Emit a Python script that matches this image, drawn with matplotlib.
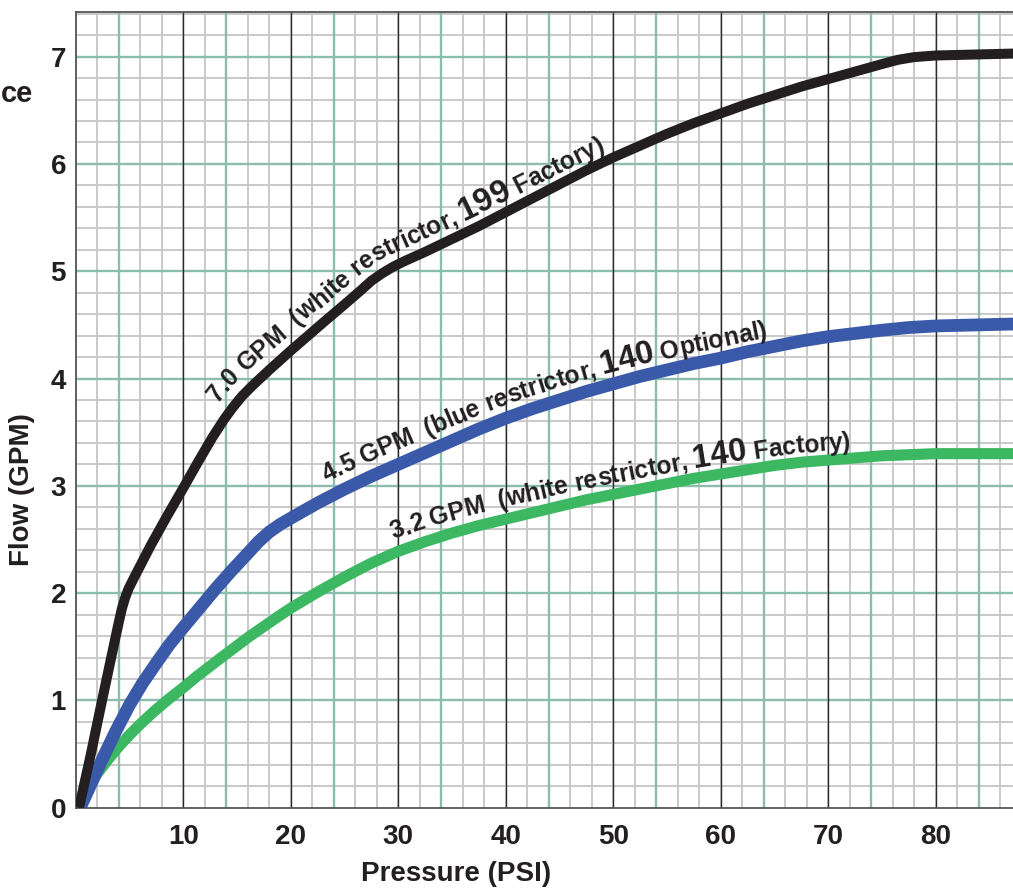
import numpy as np
import matplotlib
matplotlib.use("Agg")
import matplotlib.pyplot as plt
from matplotlib.font_manager import FontProperties
from matplotlib.transforms import IdentityTransform

# ---------------- data ----------------
pressure_black = [0.3, 1.4, 2.4, 3.4, 4.0, 4.3, 4.6, 4.9, 5.5, 7.0, 8.5, 10, 11.3, 12.7,
                  13.8, 14.6, 15.5, 16.5, 18, 20, 21.5, 23, 25, 26.5, 27.5, 28.5, 29.5,
                  30.5, 32.5, 35, 37.5, 40, 42.5, 45, 47.5, 50, 52.5, 55, 57.5, 60, 62.5,
                  65, 67.5, 70, 72.5, 75, 76.5, 78, 80, 84, 88]
flow_black = [0.0, 0.5, 0.98, 1.45, 1.73, 1.86, 1.96, 2.04, 2.16, 2.45, 2.72, 2.98, 3.21,
              3.45, 3.62, 3.73, 3.84, 3.94, 4.08, 4.26, 4.39, 4.52, 4.69, 4.82, 4.91,
              4.98, 5.04, 5.09, 5.18, 5.30, 5.42, 5.55, 5.68, 5.81, 5.94, 6.06, 6.17,
              6.28, 6.38, 6.47, 6.56, 6.64, 6.72, 6.79, 6.86, 6.93, 6.97, 6.995, 7.01,
              7.02, 7.03]

pressure_blue = [0.4, 1.5, 2.5, 3.7, 5.0, 6.2, 7.5, 8.7, 10, 11.5, 13, 14.5, 15.9, 17, 18,
                 19, 20.2, 22.5, 25, 27.5, 30, 32.5, 35, 37.5, 40, 42.5, 45, 47.5, 50,
                 52.5, 55, 57.5, 60, 62.5, 65, 67.5, 70, 72.5, 75, 77.5, 80, 84, 88]
flow_blue = [0.0, 0.24, 0.46, 0.71, 0.96, 1.16, 1.35, 1.52, 1.68, 1.86, 2.04, 2.21, 2.36,
             2.48, 2.57, 2.64, 2.71, 2.84, 2.97, 3.09, 3.20, 3.31, 3.42, 3.53, 3.63, 3.72,
             3.80, 3.88, 3.95, 4.02, 4.08, 4.14, 4.19, 4.25, 4.30, 4.35, 4.39, 4.42, 4.45,
             4.475, 4.49, 4.50, 4.51]

pressure_green = [0.2, 1, 2, 3, 3.9, 5, 6, 7.3, 8.6, 10, 11.2, 12.5, 13.8, 15, 16.2, 17.5,
                  18.8, 20, 22.5, 25, 27.5, 30, 32.5, 35, 37.5, 40, 42.5, 45, 47.5, 50,
                  52.5, 55, 57.5, 60, 62.5, 65, 67.5, 70, 72.5, 75, 77.5, 80, 84, 88]
flow_green = [0.02, 0.17, 0.32, 0.45, 0.56, 0.68, 0.78, 0.90, 1.01, 1.12, 1.22, 1.32, 1.42,
              1.51, 1.60, 1.69, 1.78, 1.86, 2.01, 2.15, 2.28, 2.39, 2.48, 2.56, 2.63, 2.69,
              2.75, 2.81, 2.87, 2.92, 2.97, 3.02, 3.07, 3.11, 3.15, 3.19, 3.22, 3.24, 3.26,
              3.28, 3.29, 3.30, 3.30, 3.30]

x_ticks = [10, 20, 30, 40, 50, 60, 70, 80]
y_ticks = [0, 1, 2, 3, 4, 5, 6, 7]

label_black = [("7.0 GPM  (white restrictor, ", "s"), ("199", "b"), (" Factory)", "s")]
label_blue = [("4.5 GPM  (blue restrictor, ", "s"), ("140", "b"), (" Optional)", "s")]
label_green = [("3.2 GPM  (white restrictor, ", "s"), ("140", "b"), (" Factory)", "s")]

# ---------------- figure ----------------
W, H = 1013, 890
FONT = "Liberation Sans"
fig = plt.figure(figsize=(W / 100, H / 100), dpi=100)
x0_px, y0_px, ytop_px = 75.8, 807.8, 11.5
ax = fig.add_axes([x0_px / W, (H - y0_px) / H, (W - x0_px) / W, (y0_px - ytop_px) / H])
ax.set_xlim(0, 87.2)
ax.set_ylim(0, 7.42)

# graph-paper grid
gray = "#c9c9c9"
grn = "#8cbcad"
for xv in np.arange(0, 88, 2):
    ax.axvline(xv, color=gray, lw=1.4, zorder=0.5)
for yv in np.arange(0.2, 7.42, 0.2):
    ax.axhline(yv, color=gray, lw=1.4, zorder=0.5)
for xv in np.arange(4, 88, 10):
    ax.axvline(xv, color=grn, lw=1.7, zorder=0.7)
for yv in range(1, 8):
    ax.axhline(yv, color=grn, lw=1.7, zorder=0.7)
for xv in np.arange(10, 88, 10):
    ax.axvline(xv, color="#2b2b2b", lw=1.0, zorder=0.9)

for sp in ["left", "top", "bottom"]:
    ax.spines[sp].set_color("#555555")
    ax.spines[sp].set_linewidth(1.3)
ax.spines["right"].set_visible(False)

ax.set_xticks(x_ticks)
ax.set_yticks(y_ticks)
ax.tick_params(length=0)
ax.tick_params(axis="x", pad=12)
ax.tick_params(axis="y", pad=7)
for t in ax.get_xticklabels() + ax.get_yticklabels():
    t.set_fontfamily(FONT)
    t.set_fontweight("bold")
    t.set_fontsize(20)
    t.set_color("#231f20")

# curves
c_black, c_blue, c_green = "#231f20", "#3a5aa9", "#3cb862"
ax.plot(pressure_green, flow_green, color=c_green, lw=8.0, solid_joinstyle="round",
        solid_capstyle="butt", zorder=3)
ax.plot(pressure_blue, flow_blue, color=c_blue, lw=9.2, solid_joinstyle="round",
        solid_capstyle="butt", zorder=4)
ax.plot(pressure_black, flow_black, color=c_black, lw=7.2, solid_joinstyle="round",
        solid_capstyle="butt", zorder=5)

# axis titles
fig.text(22 / W, 1 - 490 / H, "Flow (GPM)", rotation=90, ha="center", va="center",
         fontfamily=FONT, fontweight="bold", fontsize=20, color="#231f20")
fig.text(456 / W, 1 - 874 / H, "Pressure (PSI)", ha="center", va="center",
         fontfamily=FONT, fontweight="bold", fontsize=20, color="#231f20")
fig.text(1 / W, 1 - 102 / H, "ce", ha="left", va="baseline",
         fontfamily=FONT, fontweight="bold", fontsize=21, color="#231f20")

# ---------------- text along curves ----------------
renderer = fig.canvas.get_renderer()
fp_small = FontProperties(family=FONT, weight="bold", size=17.7)
fp_big = FontProperties(family=FONT, weight="bold", size=23.5)


def tw(s, fp):
    return renderer.get_text_width_height_descent(s, fp, ismath=False)[0]


def smooth(a, k):
    pad = np.concatenate([np.full(k, a[0]), a, np.full(k, a[-1])])
    ker = np.ones(2 * k + 1) / (2 * k + 1)
    return np.convolve(pad, ker, mode="same")[k:-k]


def resample(P, step=1.0):
    d = np.hypot(np.diff(P[:, 0]), np.diff(P[:, 1]))
    s = np.concatenate([[0], np.cumsum(d)])
    sf = np.arange(0, s[-1], step)
    return np.column_stack([np.interp(sf, s, P[:, 0]), np.interp(sf, s, P[:, 1])])


def curve_label(xs, ys, segments, x_start, x_end, off0, off1, color):
    P = ax.transData.transform(np.column_stack([xs, ys]))
    C = resample(P)
    C = np.column_stack([smooth(C[:, 0], 12), smooth(C[:, 1], 12)])
    T = np.gradient(C, axis=0)
    T /= np.hypot(T[:, 0], T[:, 1])[:, None]
    N = np.column_stack([-T[:, 1], T[:, 0]])
    xs_px = ax.transData.transform([[x_start, 0], [x_end, 0]])[:, 0]
    off = np.interp(C[:, 0], xs_px, [off0, off1])
    O = C + N * off[:, None]
    O = resample(O)
    O = np.column_stack([smooth(O[:, 0], 10), smooth(O[:, 1], 10)])
    dO = np.hypot(np.diff(O[:, 0]), np.diff(O[:, 1]))
    sO = np.concatenate([[0], np.cumsum(dO)])
    i0 = int(np.argmax(O[:, 0] >= xs_px[0]))
    pos = sO[i0]
    for text, kind in segments:
        fp = fp_big if kind == "b" else fp_small
        bar = tw("|", fp)
        lefts = [0.0] + [tw(text[:i] + "|", fp) - bar for i in range(1, len(text) + 1)]
        for i, ch in enumerate(text):
            if ch == " ":
                continue
            sc = pos + 0.5 * (lefts[i] + lefts[i + 1])
            px = np.interp(sc, sO, O[:, 0])
            py = np.interp(sc, sO, O[:, 1])
            pa = np.array([np.interp(sc - 7, sO, O[:, 0]), np.interp(sc - 7, sO, O[:, 1])])
            pb = np.array([np.interp(sc + 7, sO, O[:, 0]), np.interp(sc + 7, sO, O[:, 1])])
            ang = np.degrees(np.arctan2(pb[1] - pa[1], pb[0] - pa[0]))
            fig.text(px, py, ch, transform=IdentityTransform(), rotation=ang,
                     rotation_mode="anchor", ha="center", va="baseline",
                     fontproperties=fp, color=color, zorder=6)
        pos += lefts[-1]


curve_label(pressure_black, flow_black, label_black, 13.2, 50, 15, 9, c_black)
curve_label(pressure_blue, flow_blue, label_blue, 23.3, 64, 15, 10, c_black)
curve_label(pressure_green, flow_green, label_green, 29.5, 72, 13, 9, c_black)

fig.savefig("out.png", dpi=100)
